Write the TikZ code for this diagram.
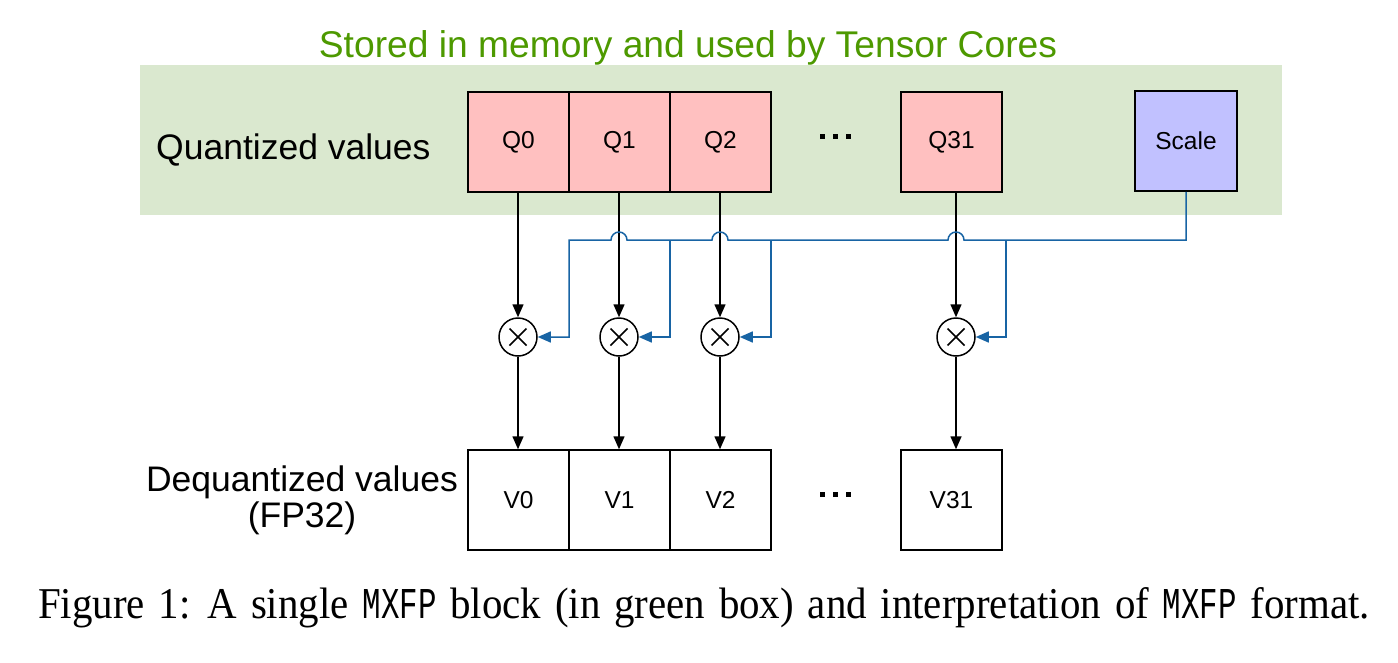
\documentclass[tikz,border=0pt]{standalone}
\usepackage{fontspec}
\setmainfont{Liberation Sans}
\newfontfamily\capfont[FakeStretch=0.93,WordSpace=1.35]{Liberation Serif}
\newfontfamily\capmono[FakeStretch=0.7]{Liberation Mono}
\usetikzlibrary{arrows.meta}
\definecolor{grbg}{RGB}{218,232,207}
\definecolor{grtxt}{RGB}{77,153,0}
\definecolor{qpink}{RGB}{255,192,192}
\definecolor{spurple}{RGB}{193,193,255}
\definecolor{bline}{RGB}{24,100,164}
\tikzset{
  cell/.style={draw=black,line width=1.5pt,minimum width=101pt,minimum height=100pt,inner sep=0pt,font=\fontsize{24.5}{26}\selectfont},
  qcell/.style={cell,fill=qpink},
  vcell/.style={cell,fill=white},
  mul/.style={circle,draw=black,line width=1.5pt,minimum size=38pt,inner sep=0pt,fill=white,
    path picture={\draw[line width=1.6pt] (path picture bounding box.center) ++(-8.5pt,-8.5pt) -- ++(17pt,17pt);
                  \draw[line width=1.6pt] (path picture bounding box.center) ++(-8.5pt,8.5pt) -- ++(17pt,-17pt);}},
  blk/.style={draw=black,line width=1.5pt,-{Triangle[length=13pt,width=11pt]}},
  bl/.style={draw=bline,line width=1.5pt,-{Triangle[length=13pt,width=11pt]}},
  lbl/.style={font=\fontsize{35.5}{36}\selectfont,inner sep=0pt},
  dotsq/.style={fill=black,minimum size=5pt,inner sep=0pt},
}
\begin{document}
\begin{tikzpicture}[x=1pt,y=-1pt]
\useasboundingbox (0,0) rectangle (1398,662);
% green background
\fill[grbg] (140,65) rectangle (1282,215);
\node[lbl,font=\fontsize{37.2}{38}\selectfont,text=grtxt,anchor=base] (title) at (688,57) {Stored in memory and used by Tensor Cores};
\node[lbl,anchor=base west] (qlab) at (156,159) {Quantized values};
\node[lbl,align=center,anchor=base] (vlab) at (302,527) {Dequantized values\\(FP32)};
% quantized cells
\node[qcell] (Q0) at (518.5,142) {Q0};
\node[qcell] (Q1) at (619.5,142) {Q1};
\node[qcell] (Q2) at (720.5,142) {Q2};
\node[qcell] (Q31) at (951.5,142) {Q31};
\node[cell,fill=spurple,minimum width=102pt] (S) at (1186,141) {Scale};
% dots
\foreach \x/\n in {822/a,835/b,848.5/c}{
  \node[dotsq] (dq\n) at (\x,136.3) {};
  \node[dotsq] (dv\n) at (\x,494) {};
}
% multipliers
\node[mul] (m0) at (518,337) {};
\node[mul] (m1) at (619,337) {};
\node[mul] (m2) at (720,337) {};
\node[mul] (m3) at (956,337) {};
% dequantized cells
\node[vcell] (V0) at (518.5,500) {V0};
\node[vcell] (V1) at (619.5,500) {V1};
\node[vcell] (V2) at (720.5,500) {V2};
\node[vcell] (V31) at (951.5,500) {V31};
% black arrows
\foreach \i/\q/\v in {0/Q0/V0,1/Q1/V1,2/Q2/V2,3/Q31/V31}{
  \draw[blk] (m\i |- \q.south) -- (m\i.north);
  \draw[blk] (m\i.south) -- (m\i |- \v.north);
}
% blue scale bus
\coordinate (b0) at (569,240);
\coordinate (b1) at (670,240);
\coordinate (b2) at (771,240);
\coordinate (b3) at (1006,240);
\coordinate (h3) at (964,240);
\coordinate (h2) at (728,240);
\coordinate (h1) at (627,240);
\draw[bl] (S.south) |- (h3) arc[start angle=0,end angle=180,radius=8pt]
  -- (h2) arc[start angle=0,end angle=180,radius=8pt]
  -- (h1) arc[start angle=0,end angle=180,radius=8pt]
  -- (b0) |- (m0.east);
\draw[bl] (b1) |- (m1.east);
\draw[bl] (b2) |- (m2.east);
\draw[bl] (b3) |- (m3.east);
% caption
\node[anchor=base,inner sep=0pt] (cap) at (704,618) {\capfont\fontsize{44}{46}\selectfont Figure 1: A single {\capmono MXFP} block (in green box) and interpretation of {\capmono MXFP} format.};
\end{tikzpicture}
\end{document}
